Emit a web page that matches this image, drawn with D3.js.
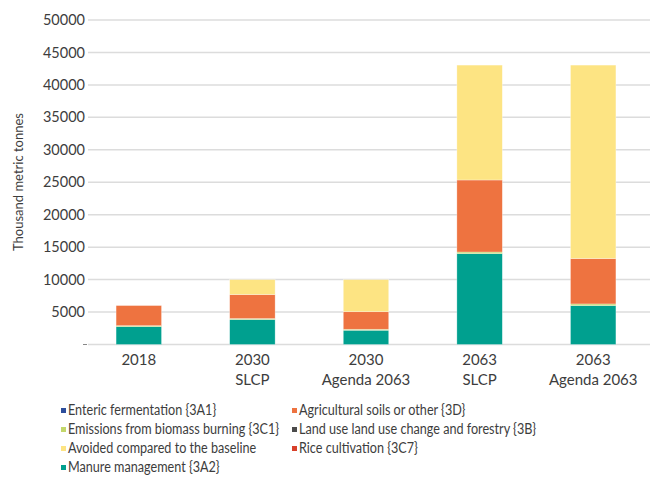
<!DOCTYPE html>
<html><head><meta charset="utf-8">
<script src="https://cdn.jsdelivr.net/npm/d3@7"></script>
<style>body{margin:0;background:#fff}text{font-family:Lato,"Open Sans",sans-serif}</style>
</head><body><svg id="c" width="654" height="477"></svg>
<script>
const categories = [["2018"],["2030","SLCP"],["2030","Agenda 2063"],["2063","SLCP"],["2063","Agenda 2063"]];
const enteric   = [0,0,0,0,0];
const manure    = [2750,3850,2200,14000,6000];
const biomass   = [150,150,150,250,250];
const rice      = [0,0,0,0,0];
const agriSoils = [3100,3700,2700,11100,7000];
const landUse   = [0,0,0,0,0];
const avoided   = [0,2300,4950,17700,29800];
const yTicks = [0,5000,10000,15000,20000,25000,30000,35000,40000,45000,50000];

const series = [
  {key:"enteric", name:"Enteric fermentation {3A1}", color:"#2d4e9c", values:enteric},
  {key:"manure", name:"Manure management {3A2}", color:"#00a08f", values:manure},
  {key:"biomass", name:"Emissions from biomass burning {3C1}", color:"#c3d76b", values:biomass},
  {key:"rice", name:"Rice cultivation {3C7}", color:"#d8402b", values:rice},
  {key:"agri", name:"Agricultural soils or other {3D}", color:"#ee7340", values:agriSoils},
  {key:"land", name:"Land use land use change and forestry {3B}", color:"#4b4b4b", values:landUse},
  {key:"avoided", name:"Avoided compared to the baseline", color:"#fde483", values:avoided}
];
const legendOrder = [
  ["enteric","agri"],["biomass","land"],["avoided","rice"],["manure"]
];

const svg = d3.select("#c");
const labels = categories.map(c=>c.join(" "));
const rows = labels.map((l,i)=>{const r={cat:l}; series.forEach(s=>r[s.key]=s.values[i]); return r;});
const x = d3.scaleBand().domain(labels).range([82,650]).paddingInner(0.6).paddingOuter(0.3);
const y = d3.scaleLinear().domain([0,50000]).range([344.5,20]);

// grid
svg.append("g").selectAll("line").data(yTicks).join("line")
  .attr("x1",88).attr("x2",650).attr("y1",d=>y(d)).attr("y2",d=>y(d))
  .attr("stroke","#dcdcdc").attr("stroke-width",1.5);

// y axis labels
const yAxis = d3.axisLeft(y).tickValues(yTicks).tickSize(0).tickPadding(3).tickFormat(d=>d===0?"":d);
const yg = svg.append("g").attr("transform","translate(88,0)").call(yAxis);
yg.select(".domain").remove();
yg.selectAll("text").attr("font-size",14.5).attr("fill","#3d3d3d").attr("font-family","Lato");
svg.append("line").attr("x1",83).attr("x2",87).attr("y1",y(0)).attr("y2",y(0)).attr("stroke","#888").attr("stroke-width",1);

// stacks
const stack = d3.stack().keys(series.map(s=>s.key));
const st = stack(rows);
svg.append("g").selectAll("g").data(st).join("g")
  .attr("fill",(d,i)=>series[i].color)
  .selectAll("rect").data(d=>d).join("rect")
  .attr("x",d=>x(d.data.cat)).attr("width",x.bandwidth())
  .attr("y",d=>y(d[1])).attr("height",d=>Math.max(0,y(d[0])-y(d[1])))
  .attr("stroke",d=>(d[1]-d[0])>0?"rgba(255,255,255,0.5)":"none").attr("stroke-width",0.6);

// x labels
const xg = svg.append("g");
categories.forEach((c,i)=>{
  const cx = x(labels[i])+x.bandwidth()/2;
  const t = xg.append("text").attr("x",cx).attr("y",365)
    .attr("text-anchor","middle").attr("font-size",15).attr("fill","#3d3d3d");
  c.forEach((line,j)=>t.append("tspan").attr("x",cx).attr("dy",j===0?0:20).text(line));
});

// y title
svg.append("text").attr("transform","translate(23,182) rotate(-90)").attr("text-anchor","middle")
  .attr("font-size",13).attr("fill","#3d3d3d").text("Thousand metric tonnes");

// legend
const colX = [61,292];
const byKey = Object.fromEntries(series.map(s=>[s.key,s]));
legendOrder.forEach((row,r)=>{
  row.forEach((k,cIdx)=>{
    const s = byKey[k];
    const base = 415 + r*19;
    svg.append("rect").attr("x",colX[cIdx]).attr("y",base-7).attr("width",5).attr("height",5).attr("fill",s.color);
    const t = svg.append("text").attr("x",colX[cIdx]+7).attr("y",base)
      .attr("font-size",14.5).attr("fill","#3d3d3d").text(s.name);
    const w = t.node().getComputedTextLength();
    t.attr("textLength",w*0.87).attr("lengthAdjust","spacingAndGlyphs");
  });
});
</script></body></html>
